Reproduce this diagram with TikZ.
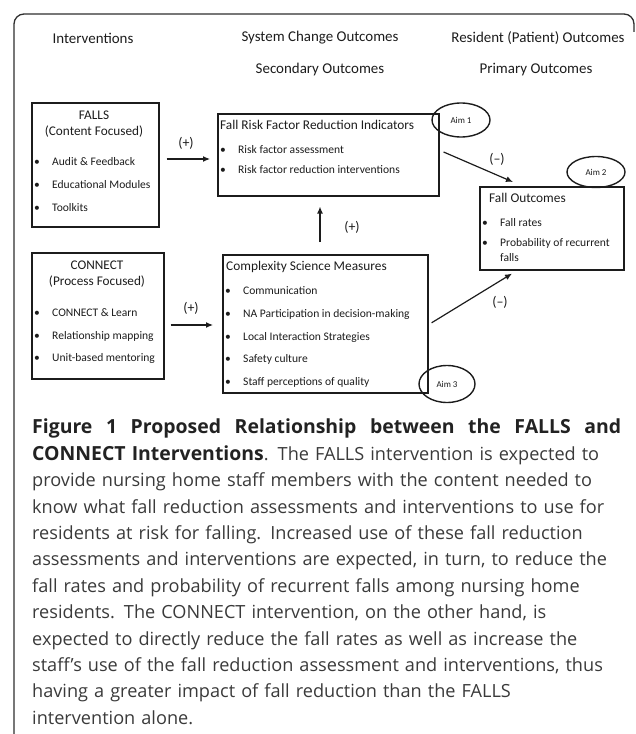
\documentclass[tikz,border=0pt]{standalone}
\usepackage{fontspec}
\setmainfont{Carlito}
\newfontfamily\capfont{Open Sans}
\usepackage{tikz}
\usetikzlibrary{arrows.meta,positioning,calc,shapes.geometric}
\definecolor{Ink}{HTML}{1C1C1C}
\definecolor{Frame}{HTML}{2E2E2E}
\definecolor{CapBold}{HTML}{222222}
\definecolor{CapText}{HTML}{3A3A3A}
\newcommand{\capbold}{\color{CapBold}\bfseries\fontsize{19.5}{26.5}\selectfont}
\tikzset{
  frame/.style={draw=Frame,line width=1.3pt,rounded corners=10bp},
  panel/.style={draw=Ink,line width=1.6pt,inner sep=0pt,anchor=north west},
  head/.style={font=\fontsize{15}{18}\selectfont,text=Ink,inner sep=0pt},
  boxhead/.style={font=\fontsize{13.3}{16}\selectfont,text=Ink,inner sep=0pt},
  title/.style={font=\fontsize{13.4}{16}\selectfont,text=Ink,anchor=west,inner sep=0pt,text height=9.5bp,text depth=3bp},
  item/.style={font=\fontsize{11.6}{14}\selectfont,text=Ink,anchor=west,inner sep=0pt,text height=8.5bp,text depth=2.5bp},
  aim/.style={draw=Ink,line width=1.4pt,ellipse,inner sep=0pt,font=\fontsize{9}{10}\selectfont,text=Ink},
  sign/.style={font=\fontsize{14}{16}\selectfont,text=Ink,inner sep=0pt},
  arrow/.style={-{Latex[length=7bp,width=6bp]},line width=1.2pt,draw=Ink}
}

\begin{document}
\begin{tikzpicture}[x=1bp,y=-1bp]
  \useasboundingbox (0,0) rectangle (636,734);
  \draw[frame] (14,760) -- (14,14) -- (634,14) -- (634,32);

  % column headers
  \node[head] (hdint) at (93,38) {Interventions};
  \node[head] (hdsys) at (320,38) {System Change Outcomes};
  \node[head] (hdsec) at (320,70) {Secondary Outcomes};
  \node[head] (hdres) at (538,38) {Resident (Patient) Outcomes};
  \node[head] (hdpri) at (536,70) {Primary Outcomes};

  % intervention boxes
  \node[panel,minimum width=127bp,minimum height=124bp] (falls) at (31,102) {};
  \node[boxhead] (fallsname) at (94,115) {FALLS};
  \node[boxhead] (fallsfocus) at (94,132) {(Content Focused)};
  \foreach \txt/\yy [count=\i] in {Audit \& Feedback/162,Educational Modules/185,Toolkits/208}{
    \node[item] (fallsdot\i) at (34,\yy) {\textbullet};
    \node[item] (fallsitem\i) at (52,\yy) {\txt};
  }

  \node[panel,minimum width=132bp,minimum height=126bp] (connect) at (31,252) {};
  \node[boxhead] (connname) at (97,265) {CONNECT};
  \node[boxhead] (connfocus) at (97,282) {(Process Focused)};
  \foreach \txt/\yy [count=\i] in {CONNECT \& Learn/313,Relationship mapping/336,Unit-based mentoring/358}{
    \node[item] (conndot\i) at (34,\yy) {\textbullet};
    \node[item] (connitem\i) at (52,\yy) {\txt};
  }

  % outcome boxes
  \node[panel,minimum width=221bp,minimum height=82bp] (frf) at (217,113) {};
  \node[title] (frftitle) at (220,126) {Fall Risk Factor Reduction Indicators};
  \foreach \txt/\yy [count=\i] in {Risk factor assessment/150,Risk factor reduction interventions/170}{
    \node[item] (frfdot\i) at (220,\yy) {\textbullet};
    \node[item] (frfitem\i) at (238,\yy) {\txt};
  }

  \node[panel,minimum width=205bp,minimum height=138bp] (csm) at (222,254) {};
  \node[title] (csmtitle) at (226,267) {Complexity Science Measures};
  \foreach \txt/\yy [count=\i] in {Communication/291,NA Participation in decision-making/314,Local Interaction Strategies/337,Safety culture/359,Staff perceptions of quality/382}{
    \node[item] (csmdot\i) at (225,\yy) {\textbullet};
    \node[item] (csmitem\i) at (243,\yy) {\txt};
  }

  \node[panel,minimum width=144bp,minimum height=83bp] (fo) at (479,186) {};
  \node[title] (fotitle) at (489,199) {Fall Outcomes};
  \node[item] (fodot1) at (482,223) {\textbullet};
  \node[item] (foitem1) at (500,223) {Fall rates};
  \node[item] (fodot2) at (482,243) {\textbullet};
  \node[item] (foitem2) at (500,243) {Probability of recurrent};
  \node[item] (foitem3) at (500,258) {falls};

  % aims
  \node[aim,minimum width=58bp,minimum height=34bp] (aim1) at (461,120) {Aim 1};
  \node[aim,minimum width=58bp,minimum height=31bp] (aim2) at (596,172) {Aim 2};
  \node[aim,minimum width=56bp,minimum height=37bp] (aim3) at (447,384) {Aim 3};

  % paths
  \draw[arrow] ($(falls.north east)+(7,57)$) -- ($(frf.north west)+(-7,46)$);
  \draw[arrow] ($(connect.north east)+(6,73)$) -- ($(csm.north west)+(-9,71)$);
  \draw[arrow] ($(csm.north west)+(98,-12)$) -- ($(frf.south west)+(103,10)$);
  \draw[arrow] ($(frf.north east)+(4,39)$) -- ($(fo.north west)+(34,-4)$);
  \draw[arrow] ($(csm.east)+(3,-1)$) -- ($(fo.south west)+(33,3)$);
  \node[sign] (sgnfalls) at (186,143) {(+)};
  \node[sign] (sgnconn) at (191,308) {(+)};
  \node[sign] (sgnup) at (352,227) {(+)};
  \node[sign] (sgnfrf) at (497,159) {(--)};
  \node[sign] (sgncsm) at (500,302) {(--)};

  % caption
  \node[anchor=north west,inner sep=0pt,text width=600bp,align=left,text=CapText,
        font=\capfont\fontsize{18.2}{26.5}\selectfont] (caption) at (32,419)
  {\makebox[589bp][s]{\spaceskip=0pt\xspaceskip=0pt\capbold Figure 1 Proposed Relationship between the FALLS and}\\
   {\capbold CONNECT Interventions}. The FALLS intervention is expected to\\
   provide nursing home staff members with the content needed to\\
   know what fall reduction assessments and interventions to use for\\
   residents at risk for falling. Increased use of these fall reduction\\
   assessments and interventions are expected, in turn, to reduce the\\
   fall rates and probability of recurrent falls among nursing home\\
   residents. The CONNECT intervention, on the other hand, is\\
   expected to directly reduce the fall rates as well as increase the\\
   staff’s use of the fall reduction assessment and interventions, thus\\
   having a greater impact of fall reduction than the FALLS\\
   intervention alone.};
\end{tikzpicture}
\end{document}
